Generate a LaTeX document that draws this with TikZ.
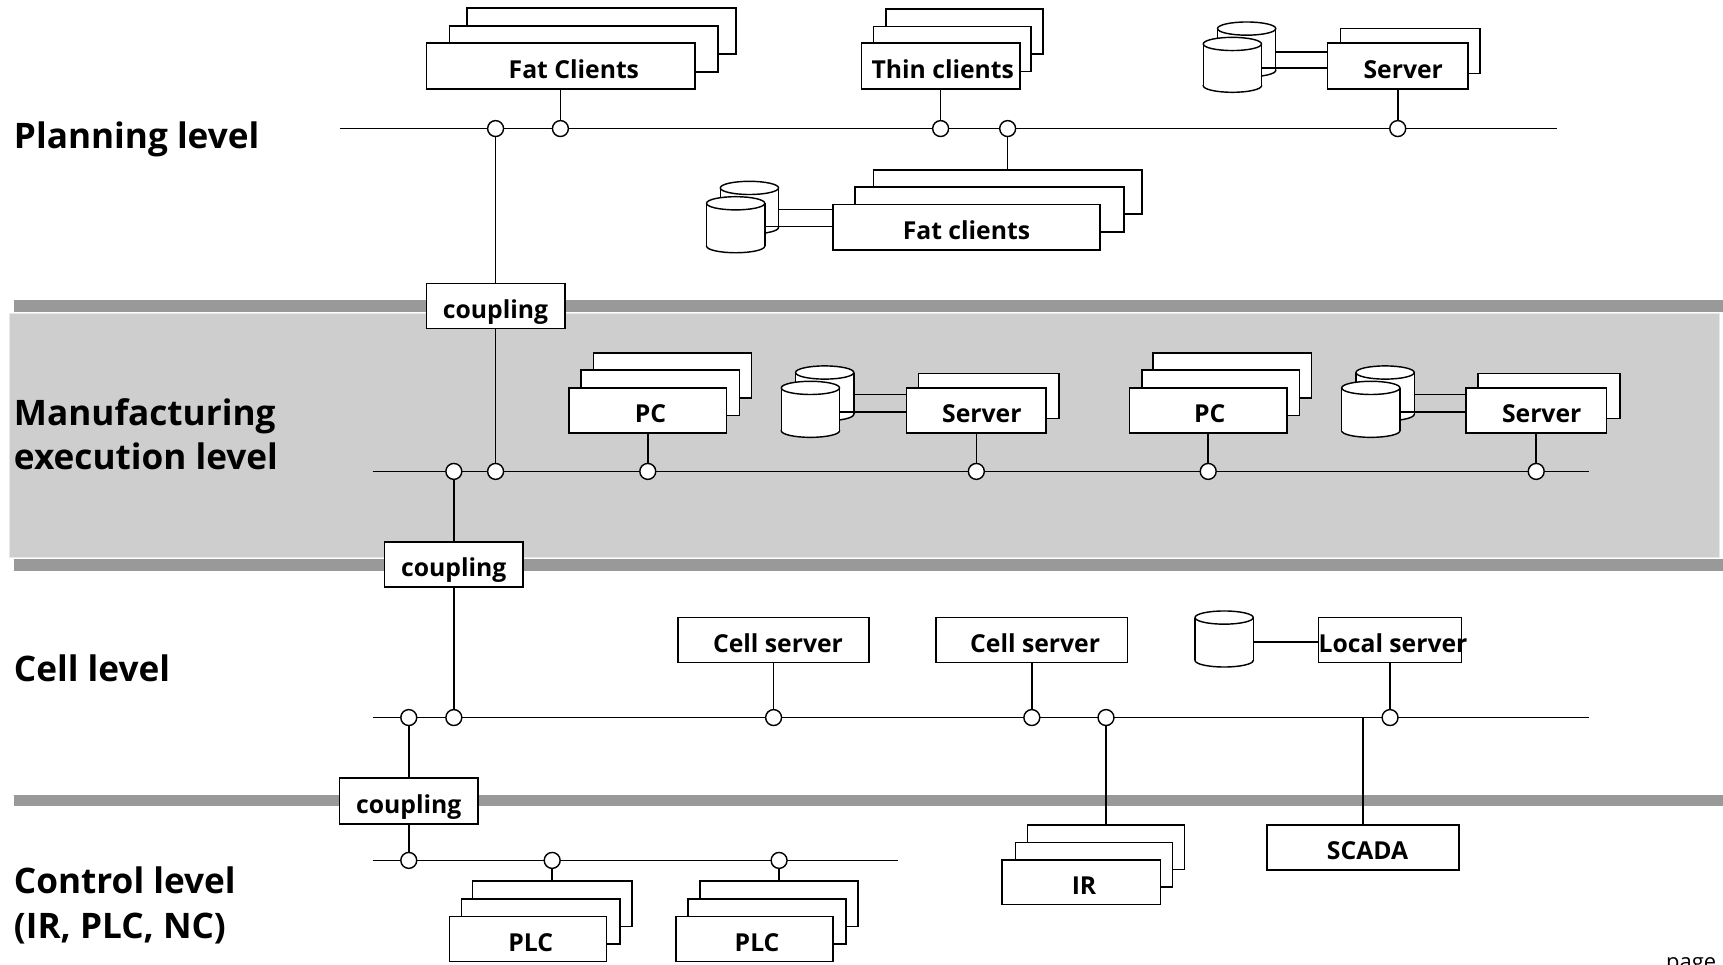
\documentclass[tikz,border=0pt]{standalone}
\usepackage{fontspec}
\setmainfont{Open Sans}
\usetikzlibrary{calc}

\definecolor{bargray}{HTML}{999999}
\definecolor{bandgray}{HTML}{CECECE}
\definecolor{bandedge}{HTML}{E8E8E8}

\newcommand{\boxfont}{\bfseries\fontsize{22.5}{26}\selectfont}
\newcommand{\lvlfont}{\bfseries\fontsize{32}{40}\selectfont}
\newcommand{\nudge}[1]{\hspace*{#1}}

% database drum: name, centre x, top y, bottom y
\newcommand{\drum}[4]{%
  \draw[dbline, fill=white] (#2,{#4-6}) ellipse[x radius=26.5, y radius=6];
  \fill[white] ({#2-26.5},{#3+6}) rectangle ({#2+26.5},{#4-6});
  \draw[dbline] ({#2-26.5},{#3+6}) -- ({#2-26.5},{#4-6})
                ({#2+26.5},{#3+6}) -- ({#2+26.5},{#4-6});
  \draw[dbline, fill=white] (#2,{#3+6}) ellipse[x radius=26.5, y radius=6];
  \coordinate (#1) at (#2,{(#3+#4)/2});
}

\begin{document}
\begin{tikzpicture}[x=1pt, y=-1pt,
  sheet/.style={draw, fill=white, line width=1.5pt, inner sep=0pt},
  cbox/.style={sheet, font=\boxfont, text height=22pt, text depth=0pt},
  tap/.style={circle, draw, fill=white, line width=1.3pt, minimum size=14.5pt, inner sep=0pt},
  wire/.style={line width=1.4pt},
  dbline/.style={line width=1.3pt},
  sepbar/.style={line width=10.5pt, draw=bargray},
  lvl/.style={anchor=base west, inner sep=0pt, font=\lvlfont},
]
\useasboundingbox (0,0) rectangle (1568,878);

% ---------- level bands and separators ----------
\draw[fill=bandgray, draw=bandedge, line width=1pt] (8.5,285) rectangle (1565,507);
\draw[sepbar] (12.5,278.5) -- (1568,278.5);
\draw[sepbar] (12.5,514) -- (1568,514);
\draw[sepbar] (12.5,728.5) -- (1568,728.5);

% ---------- level titles ----------
\node[lvl] (lv-plan) at (12.5,135) {Planning level};
\node[lvl] (lv-mes1) at (12.5,387) {Manufacturing};
\node[lvl] (lv-mes2) at (12.5,427) {execution level};
\node[lvl] (lv-cell) at (12.5,620) {Cell level};
\node[lvl] (lv-ctl1) at (12.5,813) {Control level};
\node[lvl] (lv-ctl2) at (12.5,854) {(IR, PLC, NC)};

% ================= planning level =================
\coordinate (pb-a) at (309,117);
\coordinate (pb-b) at (1417,117);
\draw[wire] (pb-a) -- (pb-b);

\node[sheet, minimum width=245pt, minimum height=41.5pt] (fatc3) at (547.5,28.25) {};
\node[sheet, minimum width=244.5pt, minimum height=42pt] (fatc2) at (531.25,44.5) {};
\node[cbox, minimum width=244.5pt, minimum height=42pt] (fatc) at (510.25,60) {\nudge{24pt}Fat Clients};

\node[sheet, minimum width=143pt, minimum height=41pt] (thin3) at (877.5,28.5) {};
\node[sheet, minimum width=143.5pt, minimum height=41pt] (thin2) at (866.75,44.5) {};
\node[cbox, minimum width=144pt, minimum height=42pt] (thin) at (856,60) {\nudge{4pt}Thin clients};

\node[sheet, minimum width=127pt, minimum height=41pt] (psrv2) at (1283.5,46.5) {};
\node[cbox, minimum width=128pt, minimum height=42pt] (psrv) at (1272,60) {\nudge{10pt}Server};

\drum{pdb2}{1134.5}{20}{70}
\drum{pdb1}{1121.5}{34}{84}
\coordinate (pdb2-out) at (1161,47.5);
\coordinate (pdb1-out) at (1148,62);
\draw[wire] (pdb2-out) -- (pdb2-out -| psrv.west);
\draw[wire] (pdb1-out) -- (pdb1-out -| psrv.west);

% fat clients hanging below the planning bus
\node[sheet, minimum width=244pt, minimum height=40.5pt] (lfc3) at (917,174.75) {};
\node[sheet, minimum width=245pt, minimum height=41pt] (lfc2) at (900.5,190.5) {};
\node[cbox, minimum width=243pt, minimum height=41.5pt] (lfc) at (879.5,206.75) {Fat clients};

\drum{ldb2}{682}{165}{213}
\drum{ldb1}{669.5}{179}{230}
\coordinate (ldb2-out) at (709,190.5);
\coordinate (ldb1-out) at (696.5,206);
\draw[wire] (ldb2-out) -- (ldb2-out -| lfc.west);
\draw[wire] (ldb1-out) -- (ldb1-out -| lfc.west);

\node[tap] (pt1) at (451,117) {};
\node[tap] (pt2) at (510,117) {};
\node[tap] (pt3) at (856,117) {};
\node[tap] (pt4) at (917,117) {};
\node[tap] (pt5) at (1272,117) {};

\draw[wire] (pt2) -- (pt2 |- fatc.south);
\draw[wire] (pt3) -- (pt3 |- thin.south);
\draw[wire] (pt5) -- (pt5 |- psrv.south);
\draw[wire] (pt4) -- (pt4 |- lfc3.north);

% coupling planning / MES
\node[cbox, minimum width=126pt, minimum height=41pt] (cp1) at (451,278.5) {coupling};
\draw[wire] (pt1) -- (cp1.north);

% ================= manufacturing execution level =================
\coordinate (mb-a) at (339,429);
\coordinate (mb-b) at (1446,429);
\draw[wire] (mb-a) -- (mb-b);

\node[sheet, minimum width=144pt, minimum height=41pt] (pc13) at (612,341.5) {};
\node[sheet, minimum width=144pt, minimum height=41pt] (pc12) at (601,357.5) {};
\node[cbox, minimum width=143pt, minimum height=41pt] (pc1) at (589.5,373.5) {\nudge{5pt}PC};

\node[sheet, minimum width=128pt, minimum height=41pt] (ms12) at (900,360.5) {};
\node[cbox, minimum width=127pt, minimum height=41pt] (ms1) at (888.5,373.5) {\nudge{10pt}Server};
\drum{mdb12}{750.5}{333}{383}
\drum{mdb11}{737.5}{347}{398}
\coordinate (mdb12-out) at (777,359);
\coordinate (mdb11-out) at (764,375);
\draw[wire] (mdb12-out) -- (mdb12-out -| ms1.west);
\draw[wire] (mdb11-out) -- (mdb11-out -| ms1.west);

\node[sheet, minimum width=144pt, minimum height=41pt] (pc23) at (1121.5,341.5) {};
\node[sheet, minimum width=143pt, minimum height=41pt] (pc22) at (1111,357.5) {};
\node[cbox, minimum width=143pt, minimum height=41pt] (pc2) at (1099.5,373.5) {\nudge{3pt}PC};

\node[sheet, minimum width=129pt, minimum height=41pt] (ms22) at (1409.5,360.5) {};
\node[cbox, minimum width=128pt, minimum height=41pt] (ms2) at (1398,373.5) {\nudge{10pt}Server};
\drum{mdb22}{1260.5}{333}{383}
\drum{mdb21}{1247.5}{347}{398}
\coordinate (mdb22-out) at (1287,359);
\coordinate (mdb21-out) at (1274,375);
\draw[wire] (mdb22-out) -- (mdb22-out -| ms2.west);
\draw[wire] (mdb21-out) -- (mdb21-out -| ms2.west);

\node[tap] (mt1) at (413,429) {};
\node[tap] (mt2) at (451,429) {};
\node[tap] (mt3) at (589.5,429) {};
\node[tap] (mt4) at (888.5,429) {};
\node[tap] (mt5) at (1099.5,429) {};
\node[tap] (mt6) at (1398,429) {};

\draw[wire] (cp1.south) -- (mt2);
\draw[wire] (mt3) -- (mt3 |- pc1.south);
\draw[wire] (mt4) -- (mt4 |- ms1.south);
\draw[wire] (mt5) -- (mt5 |- pc2.south);
\draw[wire] (mt6) -- (mt6 |- ms2.south);

% coupling MES / cell
\node[cbox, minimum width=126pt, minimum height=41pt] (cp2) at (413,513.5) {coupling};
\draw[wire] (mt1) -- (cp2.north);

% ================= cell level =================
\coordinate (cb-a) at (339,653);
\coordinate (cb-b) at (1446,653);
\draw[wire] (cb-a) -- (cb-b);

\node[cbox, minimum width=174pt, minimum height=41pt] (cs1) at (704,582.5) {\nudge{8pt}Cell server};
\node[cbox, minimum width=174pt, minimum height=41pt] (cs2) at (939,582.5) {\nudge{6pt}Cell server};

\node[sheet, minimum width=130pt, minimum height=41pt] (lsrv) at (1265,582.5) {};
\node[anchor=west, inner sep=0pt, font=\boxfont, text height=22pt, text depth=0pt] (lsrv-t) at ([xshift=0.5pt]lsrv.west) {Local server};
\drum{cdb}{1114}{556}{607}
\coordinate (cdb-out) at (1140.5,584);
\draw[wire] (cdb-out) -- (cdb-out -| lsrv.west);

\node[tap] (ct1) at (372,653) {};
\node[tap] (ct2) at (413,653) {};
\node[tap] (ct3) at (704,653) {};
\node[tap] (ct4) at (939,653) {};
\node[tap] (ct5) at (1006.5,653) {};
\node[tap] (ct6) at (1265,653) {};

\draw[wire] (cp2.south) -- (ct2);
\draw[wire] (ct3) -- (ct3 |- cs1.south);
\draw[wire] (ct4) -- (ct4 |- cs2.south);
\draw[wire] (ct6) -- (ct6 |- lsrv.south);

% robot controllers and SCADA fed from the cell bus
\node[sheet, minimum width=143pt, minimum height=40.5pt] (ir3) at (1006.5,771) {};
\node[sheet, minimum width=143pt, minimum height=40.5pt] (ir2) at (995.5,787) {};
\node[cbox, minimum width=144pt, minimum height=40.5pt] (ir) at (984,803) {\nudge{5pt}IR};
\draw[wire] (ct5) -- (ct5 |- ir3.north);

\node[cbox, minimum width=175pt, minimum height=41pt] (scada) at (1240.5,771.5) {\nudge{8pt}SCADA};
\draw[wire] (scada.north) -- (scada.north |- cb-a);

% coupling cell / control
\node[cbox, minimum width=126pt, minimum height=42pt] (cp3) at (372,729) {coupling};
\draw[wire] (ct1) -- (cp3.north);

% ================= control level =================
\coordinate (kb-a) at (339,783);
\coordinate (kb-b) at (817,783);
\draw[wire] (kb-a) -- (kb-b);

\node[sheet, minimum width=145pt, minimum height=41pt] (plc13) at (502.5,822.5) {};
\node[sheet, minimum width=144pt, minimum height=41pt] (plc12) at (492,838.5) {};
\node[cbox, minimum width=143pt, minimum height=41pt] (plc1) at (480.5,854.5) {\nudge{5pt}PLC};

\node[sheet, minimum width=144pt, minimum height=41pt] (plc23) at (709,822.5) {};
\node[sheet, minimum width=144pt, minimum height=41pt] (plc22) at (698,838.5) {};
\node[cbox, minimum width=143pt, minimum height=41pt] (plc2) at (686.5,854.5) {\nudge{5pt}PLC};

\node[tap] (kt1) at (372,783) {};
\node[tap] (kt2) at (502.5,783) {};
\node[tap] (kt3) at (709,783) {};

\draw[wire] (cp3.south) -- (kt1);
\draw[wire] (kt2) -- (kt2 |- plc13.north);
\draw[wire] (kt3) -- (kt3 |- plc23.north);

% page footer
\node[anchor=base west, inner sep=0pt, font=\fontsize{20}{24}\selectfont] (pg) at (1516,882) {page};
\end{tikzpicture}
\end{document}
